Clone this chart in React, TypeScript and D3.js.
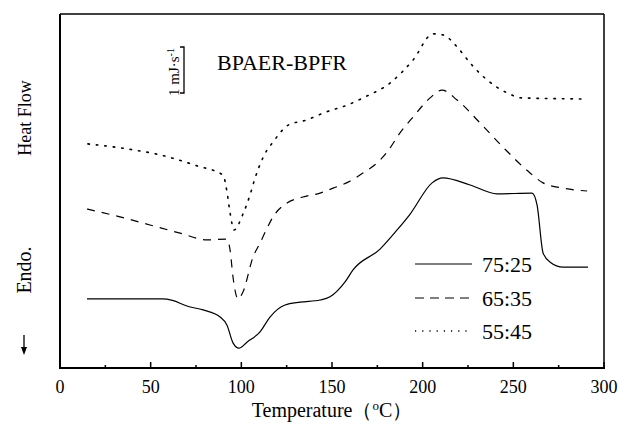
import React from "react";
import * as d3 from "d3";

const W = 620;
const H = 437;
const margin = { left: 60, right: 16, top: 14, bottom: 69 };

const xTicks = [0, 50, 100, 150, 200, 250, 300];
const xMinorTicks = [25, 75, 125, 175, 225, 275];

// temperature (°C) and heat flow (arbitrary units)
const solidT = [14.9, 56.3, 62.0, 70.0, 78.9, 88.3, 92.1, 95.4, 98.7, 103.1, 110.3, 115.8, 124.1, 132.4, 143.4, 148.9, 157.2, 161.6, 176.5, 185.9, 193.1, 205.2, 211.2, 226.1, 241.0, 260.3, 263.1, 266.4, 270.3, 277.4, 291.2];
const solidV = [19.5, 19.5, 19.1, 17.5, 16.4, 14.4, 12.1, 7.1, 5.6, 7.3, 10.2, 14.4, 17.8, 18.6, 19.2, 20.1, 24.3, 27.7, 33.6, 39.0, 43.5, 52.3, 53.7, 51.7, 49.2, 49.4, 46.0, 32.5, 29.9, 28.5, 28.5];

const dashT = [14.9, 33.1, 49.6, 66.2, 81.1, 92.1, 93.8, 95.4, 98.2, 100.9, 106.5, 110.3, 114.2, 117.5, 125.2, 134.0, 143.4, 150.6, 158.9, 167.1, 174.8, 180.4, 187.5, 194.7, 204.1, 210.7, 219.0, 231.7, 244.3, 259.2, 266.4, 277.4, 290.7];
const dashV = [44.9, 42.7, 40.4, 38.1, 36.2, 36.4, 33.3, 25.7, 19.5, 21.5, 31.4, 35.3, 39.5, 42.7, 46.6, 48.3, 49.4, 50.8, 52.5, 55.1, 57.9, 61.0, 66.4, 70.9, 76.3, 78.5, 75.7, 69.2, 62.4, 55.1, 52.3, 50.8, 50.0];

const dotT = [15.4, 37.0, 55.2, 75.6, 89.9, 92.1, 93.8, 96.0, 100.9, 104.8, 107.6, 111.4, 114.2, 117.5, 121.3, 125.8, 136.2, 145.1, 160.0, 167.1, 182.0, 194.7, 205.7, 211.2, 219.0, 226.1, 235.5, 246.6, 254.8, 288.5];
const dotV = [63.3, 61.9, 60.2, 57.1, 54.5, 49.7, 43.8, 39.0, 43.5, 48.9, 53.7, 58.8, 61.6, 63.8, 66.4, 68.6, 70.1, 72.0, 74.6, 76.3, 80.5, 87.0, 94.4, 94.1, 90.7, 86.2, 81.4, 77.7, 76.3, 76.0];

const seriesNames = ["75:25", "65:35", "55:45"];
const dashes = [null, "8,7", "1.5,7"];
const legendDashes = [null, "9,6", "1.2,6"];

const FONT = "'Liberation Serif', 'Times New Roman', serif";

export default function App() {
  const x = d3.scaleLinear().domain([0, 300]).range([margin.left, W - margin.right]);
  const y = d3.scaleLinear().domain([0, 100]).range([H - margin.bottom, margin.top]);
  const line = d3
    .line<[number, number]>()
    .x((d) => x(d[0]))
    .y((d) => y(d[1]))
    .curve(d3.curveMonotoneX);

  const series = [
    d3.zip(solidT, solidV) as [number, number][],
    d3.zip(dashT, dashV) as [number, number][],
    d3.zip(dotT, dotV) as [number, number][],
  ];

  const x0 = margin.left;
  const x1 = W - margin.right;
  const y0 = margin.top;
  const y1 = H - margin.bottom;

  const legendY = [264, 298, 331];

  return (
    <svg
      width={W}
      height={H}
      style={{ position: "absolute", left: 0, top: 0, background: "#fff" }}
      fontFamily={FONT}
    >
      <rect x={0} y={0} width={W} height={H} fill="#fff" />
      {/* frame */}
      <line x1={x0} y1={y0} x2={x1} y2={y0} stroke="#000" strokeWidth={1.5} />
      <line x1={x1} y1={y0} x2={x1} y2={y1} stroke="#000" strokeWidth={1.5} />
      <line x1={x0} y1={y0} x2={x0} y2={y1} stroke="#000" strokeWidth={2} />
      <line x1={x0 - 1} y1={y1} x2={x1 + 1} y2={y1} stroke="#000" strokeWidth={2} />
      {xTicks.map((t) => (
        <g key={t}>
          <line x1={x(t)} x2={x(t)} y1={y1} y2={y1 - 6} stroke="#000" strokeWidth={1.5} />
          <text x={x(t)} y={393} fontSize={18} textAnchor="middle">
            {t}
          </text>
        </g>
      ))}
      {xMinorTicks.map((t) => (
        <line key={t} x1={x(t)} x2={x(t)} y1={y1} y2={y1 - 3} stroke="#000" strokeWidth={1.5} />
      ))}
      <text x={332} y={417} fontSize={20} textAnchor="middle">
        Temperature（
        <tspan baselineShift="super" fontSize={13}>o</tspan>C）
      </text>
      {/* y label */}
      <text transform="translate(31,118) rotate(-90)" fontSize={18} textAnchor="middle">
        Heat Flow
      </text>
      <text transform="translate(31,270) rotate(-90)" fontSize={20} textAnchor="middle">
        Endo.
      </text>
      <line x1={24} x2={24} y1={335} y2={352} stroke="#000" strokeWidth={1.3} />
      <path d="M21,347 L24,355 L27,347 Z" fill="#000" />

      {/* title + scale bar */}
      <text x={217} y={70} fontSize={22}>
        BPAER-BPFR
      </text>
      <text transform="translate(179,72) rotate(-90)" fontSize={15} textAnchor="middle">
        1 mJ·s<tspan baselineShift="super" fontSize={10}>-1</tspan>
      </text>
      <path d="M180,47 L184,47 L184,93 L180,93" fill="none" stroke="#000" strokeWidth={1.3} />

      {/* curves */}
      {series.map((s, i) => (
        <path
          key={i}
          d={line(s) || ""}
          fill="none"
          stroke="#000"
          strokeWidth={i === 2 ? 1.6 : 1.2}
          strokeDasharray={dashes[i] || undefined}
          strokeLinecap={i === 2 ? "round" : "butt"}
        />
      ))}

      {/* legend */}
      {seriesNames.map((n, i) => (
        <g key={n}>
          <line
            x1={415}
            x2={472}
            y1={legendY[i]}
            y2={legendY[i]}
            stroke="#000"
            strokeWidth={i === 2 ? 1.4 : 1.2}
            strokeDasharray={legendDashes[i] || undefined}
          />
          <text x={482} y={legendY[i] + 8} fontSize={22}>
            {n}
          </text>
        </g>
      ))}
    </svg>
  );
}
